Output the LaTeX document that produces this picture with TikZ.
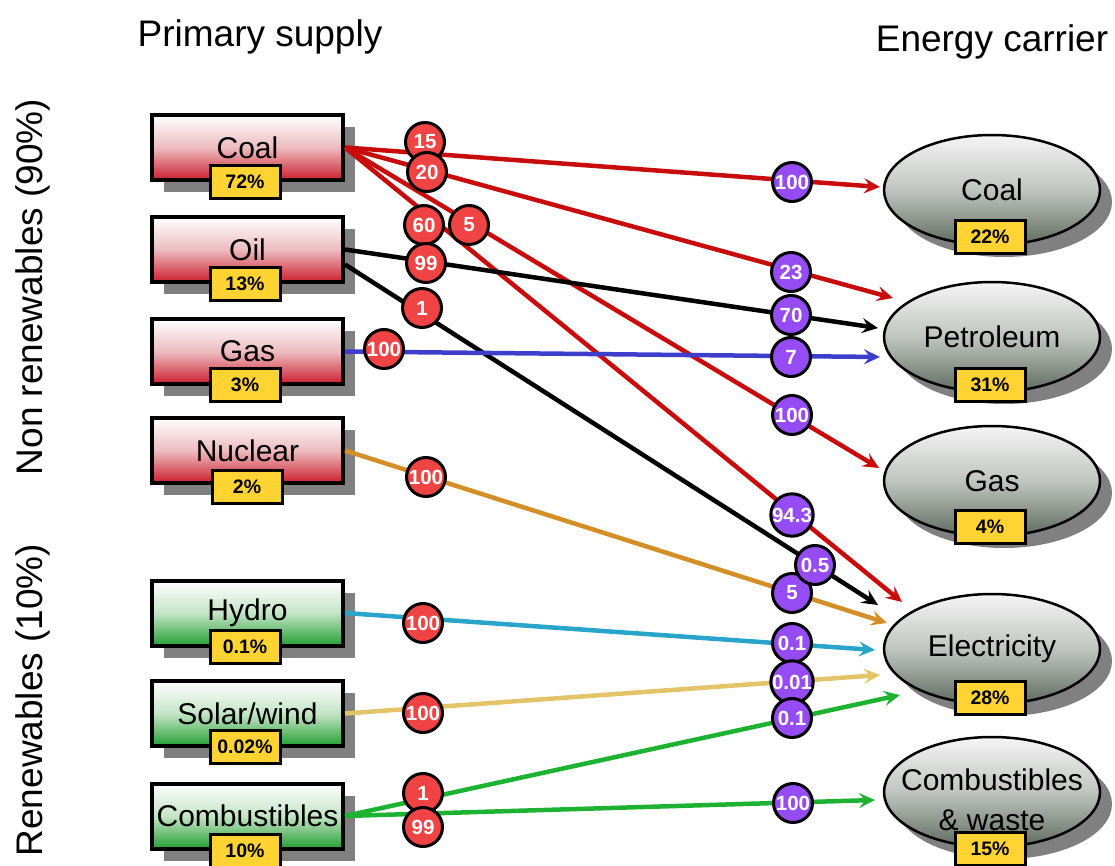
\documentclass[tikz,border=0pt]{standalone}
\usepackage{fontspec}
\setmainfont{Liberation Sans}
\usetikzlibrary{arrows.meta,shapes.geometric,shadows}

\definecolor{flowred}{RGB}{200,12,12}
\definecolor{flowblue}{RGB}{62,62,205}
\definecolor{flownuc}{RGB}{212,142,40}
\definecolor{flowhydro}{RGB}{40,165,200}
\definecolor{flowsolar}{RGB}{228,196,105}
\definecolor{flowgreen}{RGB}{30,178,50}
\definecolor{boxredbot}{RGB}{205,30,45}
\definecolor{boxredmid}{RGB}{236,188,192}
\definecolor{boxgreenbot}{RGB}{35,160,50}
\definecolor{boxgreenmid}{RGB}{196,228,198}
\definecolor{ellbot}{RGB}{95,108,95}
\definecolor{ellmid}{RGB}{192,196,192}
\definecolor{badgegold}{RGB}{255,212,50}
\definecolor{srccircle}{RGB}{240,68,68}
\definecolor{dstcircle}{RGB}{150,76,245}

\tikzset{
  x=1pt, y=-1pt,
  boxshadow/.style={drop shadow={shadow xshift=12pt,shadow yshift=-12pt,opacity=1,fill=black!50}},
  source/.style={rectangle, draw=black, line width=4pt, minimum width=191pt, minimum height=65pt,
    inner sep=0pt, boxshadow, font=\fontsize{30}{36}\selectfont},
  srcred/.style={source, top color=white, bottom color=boxredbot, middle color=boxredmid},
  srcgreen/.style={source, top color=white, bottom color=boxgreenbot, middle color=boxgreenmid},
  carrier/.style={ellipse, draw=black, line width=2.5pt, minimum width=216pt, minimum height=110pt,
    inner sep=0pt, boxshadow, top color=white!96!black, bottom color=ellbot, middle color=ellmid,
    font=\fontsize{30}{36}\selectfont},
  carriertext/.style={inner sep=0pt, align=center, font=\fontsize{30}{40}\selectfont},
  badge/.style={rectangle, draw=black, line width=3pt, fill=badgegold, minimum width=70pt,
    minimum height=33pt, inner sep=0pt, font=\fontsize{19.5}{22}\selectfont\bfseries},
  share/.style={circle, draw=black, line width=3pt, minimum size=39pt, inner sep=0pt,
    text=white, font=\fontsize{20.5}{23}\selectfont\bfseries},
  srcshare/.style={share, fill=srccircle},
  dstshare/.style={share, fill=dstcircle},
  flow/.style={line width=4.5pt, -{Stealth[length=16pt,width=15pt,inset=6pt]}},
  heading/.style={anchor=base, inner sep=0pt, font=\fontsize{37}{44}\selectfont},
}

\begin{document}
\begin{tikzpicture}
\useasboundingbox (0,0) rectangle (1115,866);

% column headings and group labels
\node[heading] (hsupply) at (260,47) {Primary supply};
\node[heading] (hcarrier) at (992,52) {Energy carrier};
\node[heading, rotate=90] (gnon) at (42,287) {Non renewables (90\%)};
\node[heading, rotate=90] (gren) at (42,700) {Renewables (10\%)};

% primary supply boxes
\node[srcred]   (coal)  at (247.5,147.5) {Coal};
\node[srcred]   (oil)   at (247.5,249.5) {Oil};
\node[srcred]   (gas)   at (247.5,351.5) {Gas};
\node[srcred]   (nuc)   at (247.5,450.5) {Nuclear};
\node[srcgreen] (hydro) at (247.5,613)   {Hydro};
\node[srcgreen] (solar) at (247.5,713.5) {Solar/wind};
\node[srcgreen] (comb)  at (247.5,816)   {Combustibles};

% energy carrier ellipses
\node[carrier] (ecoal) at (992,190) {Coal};
\node[carrier] (epet)  at (992,337) {Petroleum};
\node[carrier] (egas)  at (992,481) {Gas};
\node[carrier] (eelec) at (992,649) {Electricity};
\node[carrier] (ecomb) at (992,792) {};
\node[carriertext] (ecombtext) at (992,800) {Combustibles\\\& waste};

% arrow tip positions in front of the carriers
\coordinate (tCC) at (880,187);
\coordinate (tCP) at (893,298);
\coordinate (tOP) at (878,328);
\coordinate (tGP) at (880,357);
\coordinate (tCG) at (879,468);
\coordinate (tCE) at (902,602);
\coordinate (tOE) at (878,605);
\coordinate (tNE) at (887,623);
\coordinate (tHE) at (875,650);
\coordinate (tSE) at (880,675);
\coordinate (tBE) at (900,695);
\coordinate (tBB) at (875,800);

% flows
\draw[flow, flowred]   (coal.east) -- (tCC);
\draw[flow, flowred]   (coal.east) -- (tCP);
\draw[flow, flowred]   (coal.east) -- (tCG);
\draw[flow, flowred]   (coal.east) -- (tCE);
\draw[flow, black]     (oil.east) -- (tOP);
\draw[flow, black]     ([yshift=-15pt]oil.east) -- (tOE);
\draw[flow, flowblue]  (gas.east) -- (tGP);
\draw[flow, flownuc]   (nuc.east) -- (tNE);
\draw[flow, flowhydro] (hydro.east) -- (tHE);
\draw[flow, flowsolar] (solar.east) -- (tSE);
\draw[flow, flowgreen] (comb.east) -- (tBE);
\draw[flow, flowgreen] (comb.east) -- (tBB);

% share badges
\node[badge] (bcoal)  at (245,182)   {72\%};
\node[badge] (boil)   at (245,284)   {13\%};
\node[badge] (bgas)   at (245,384.5) {3\%};
\node[badge] (bnuc)   at (247,487)   {2\%};
\node[badge] (bhydro) at (245,647)   {0.1\%};
\node[badge] (bsolar) at (245,746.5) {0.02\%};
\node[badge] (bcomb)  at (245,851)   {10\%};
\node[badge] (becoal) at (990,237)   {22\%};
\node[badge] (bepet)  at (990,385)   {31\%};
\node[badge] (begas)  at (990,527)   {4\%};
\node[badge] (beelec) at (990,698)   {28\%};
\node[badge] (becomb) at (990,849)   {15\%};

% percentages leaving each primary source
\node[srcshare] (s15)   at (425,142) {15};
\node[srcshare] (s20)   at (427,172) {20};
\node[srcshare] (s60)   at (424,225) {60};
\node[srcshare] (s5)    at (469,225) {5};
\node[srcshare] (s99)   at (426,263) {99};
\node[srcshare] (s1)    at (422,308) {1};
\node[srcshare] (sgas)  at (384,349) {100};
\node[srcshare] (snuc)  at (426,477) {100};
\node[srcshare] (shyd)  at (423,623) {100};
\node[srcshare] (ssol)  at (423,713) {100};
\node[srcshare] (scb1)  at (423,793) {1};
\node[srcshare] (scb99) at (423,827) {99};

% percentages arriving at each carrier
\node[dstshare] (d100a) at (792,182) {100};
\node[dstshare] (d23)   at (791,272) {23};
\node[dstshare] (d70)   at (791,315) {70};
\node[dstshare] (d7)    at (791,357) {7};
\node[dstshare] (d100b) at (792,415) {100};
\node[dstshare] (d943)  at (792,515) {94.3};
\node[dstshare] (d5)    at (792,593) {5};
\node[dstshare] (d05)   at (815,565) {0.5};
\node[dstshare] (d01a)  at (792,643) {0.1};
\node[dstshare] (d001)  at (792,682) {0.01};
\node[dstshare] (d01b)  at (792,718) {0.1};
\node[dstshare] (d100c) at (793,803) {100};
\end{tikzpicture}
\end{document}
